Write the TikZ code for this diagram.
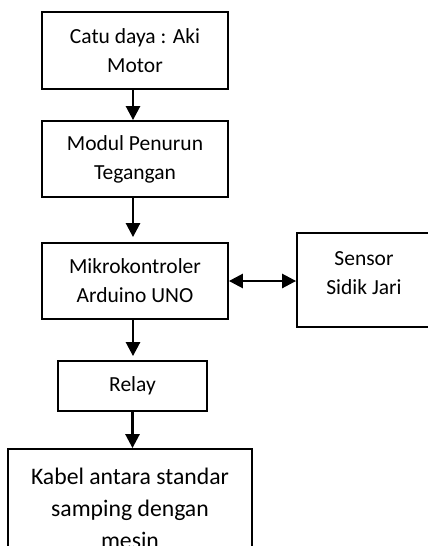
\documentclass[tikz,border=0pt]{standalone}
\usepackage{fontspec}
\setmainfont{Carlito}
\usepackage{tikz}
\usetikzlibrary{arrows.meta, positioning}

\begin{document}
\begin{tikzpicture}[
  x=1pt, y=-1pt,
  blok/.style={draw, line width=1.8pt, align=center, inner sep=0pt,
               font=\fontsize{21.5}{29}\selectfont},
  panah/.style={-{Triangle[length=14pt, width=14pt]}, line width=2.6pt},
  panahdua/.style={{Triangle[length=14pt, width=14pt]}-{Triangle[length=14pt, width=14pt]}, line width=2.6pt},
]
\useasboundingbox (0,0) rectangle (428,546);
\clip (0,0) rectangle (428,546);

% ---- kolom utama ----
\node[blok, minimum width=186, minimum height=77] (catu) at (135, 50.5) {Catu daya : Aki\\Motor};
\node[blok, minimum width=186, minimum height=76] (modul) at (135, 159) {Modul Penurun\\Tegangan};
\node[blok, minimum width=186, minimum height=76] (mikro) at (135, 281) {Mikrokontroler\\Arduino UNO};
\node[blok, minimum width=149, minimum height=50] (relay) at (132.5, 386) {Relay};
\node[blok, minimum width=244, minimum height=118, font=\fontsize{23.7}{32}\selectfont] (kabel) at (130, 508)
  {Kabel antara standar\\samping dengan\\mesin};

% ---- sensor ----
\node[blok, minimum width=134, minimum height=94, text depth=13pt] (sensor) at (364, 280) {Sensor\\Sidik Jari};

\draw[panah] ([xshift=-2pt]catu.south) -- ([xshift=-2pt]catu.south |- modul.north);
\draw[panah, shorten >=5pt] ([xshift=-2pt]modul.south) -- ([xshift=-2pt]modul.south |- mikro.north);
\draw[panah, shorten >=4pt] ([xshift=-2pt]mikro.south) -- ([xshift=-2pt]mikro.south |- relay.north);
\draw[panah] (relay.south) -- (relay.south |- kabel.north);
\draw[panahdua] (mikro.east) -- (mikro.east -| sensor.west);

\end{tikzpicture}
\end{document}
